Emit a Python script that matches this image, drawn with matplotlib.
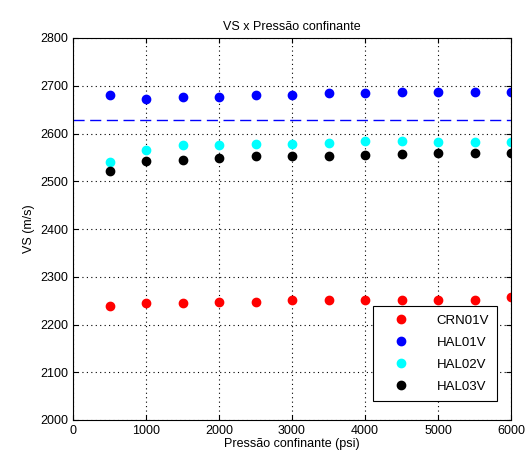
import matplotlib.pyplot as plt

plt.rcParams['font.family'] = ['Liberation Sans', 'DejaVu Sans']

# pressão confinante (psi)
pressao = [500, 1000, 1500, 2000, 2500, 3000, 3500, 4000, 4500, 5000, 5500, 6000]

# VS (m/s) de cada amostra
crn01v = [2239, 2245, 2245, 2248, 2248, 2252, 2252, 2252, 2252, 2252, 2252, 2257]
hal01v = [2681, 2673, 2676, 2676, 2681, 2681, 2684, 2684, 2686, 2686, 2686, 2686]
hal02v = [2541, 2565, 2576, 2576, 2579, 2579, 2581, 2584, 2584, 2582, 2582, 2582]
hal03v = [2521, 2543, 2545, 2548, 2552, 2552, 2552, 2555, 2557, 2560, 2560, 2560]
media_x = [0, 6000]
media_vs = [2628, 2628]

fig = plt.figure(figsize=(5.25, 4.59), dpi=100)
ax = fig.add_axes([73/525, 39/459, 438/525, 382/459])

ax.plot(pressao, crn01v, 'o', color='red', ms=6, label='CRN01V')
ax.plot(pressao, hal01v, 'o', color='blue', ms=6, label='HAL01V')
ax.plot(pressao, hal02v, 'o', color='cyan', ms=6, label='HAL02V')
ax.plot(pressao, hal03v, 'o', color='black', ms=6, label='HAL03V')
ax.plot(media_x, media_vs, color='blue', lw=1, dashes=(8, 4))

ax.set_xlim(0, 6000)
ax.set_ylim(2000, 2800)
ax.set_xticks(range(0, 6001, 1000))
ax.set_yticks(range(2000, 2801, 100))
ax.grid(True, color='black', linestyle=(0, (1, 3)), linewidth=0.8)
ax.tick_params(direction='in', top=True, right=True, labelsize=9)
ax.set_title('VS x Pressão confinante', fontsize=9)
ax.set_xlabel('Pressão confinante (psi)', fontsize=9, labelpad=1)
ax.set_ylabel('VS (m/s)', fontsize=9)

leg = ax.legend(loc='lower right', fontsize=9.5, fancybox=False, framealpha=1,
                edgecolor='black', borderpad=0.6, labelspacing=0.75,
                handlelength=3.0, handletextpad=1.2, borderaxespad=0,
                bbox_to_anchor=(0.968, 0.05))
leg.get_frame().set_linewidth(0.8)

fig.savefig('out.png', dpi=100)
